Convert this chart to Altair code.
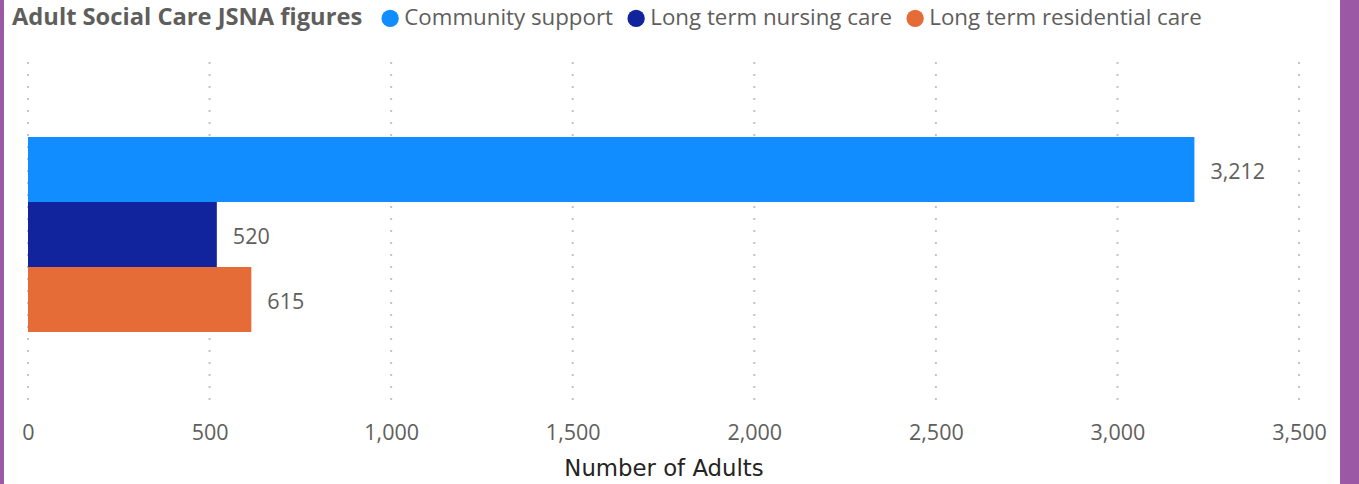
import altair as alt
import pandas as pd

categories = ["Community support", "Long term nursing care", "Long term residential care"]
values = [3212, 520, 615]
colors = ["#118DFF", "#12239E", "#E66C37"]
x_ticks = [0, 500, 1000, 1500, 2000, 2500, 3000, 3500]

df = pd.DataFrame({"Category": categories, "Adults": values})
grid_df = pd.DataFrame({"tick": x_ticks})

W, H = 1271, 348
FONT = "Open Sans"
xscale = alt.Scale(domain=[0, 3500], nice=False)

base = alt.Chart(df)

grid = alt.Chart(grid_df).mark_rule(
    color="#C4C4C4", strokeWidth=2, strokeDash=[2, 10]
).encode(
    x=alt.X("tick:Q", scale=xscale),
    y=alt.value(0),
    y2=alt.value(H),
)

bars = base.mark_bar().encode(
    x=alt.X(
        "Adults:Q",
        scale=xscale,
        axis=alt.Axis(
            values=x_ticks,
            format=",.0f",
            title="Number of Adults",
            grid=False,
            domain=False,
            ticks=False,
            labelFlush=False,
            labelFont=FONT,
            labelFontSize=21.5,
            labelColor="#605E5C",
            labelPadding=12,
            titleFont="DejaVu Sans",
            titleFontSize=22.8,
            titleFontWeight="normal",
            titleColor="#252423",
            titlePadding=14,
        ),
    ),
    y=alt.Y(
        "Category:N",
        sort=categories,
        scale=alt.Scale(range=[75, 270], paddingInner=0, paddingOuter=0),
        axis=None,
    ),
    color=alt.Color(
        "Category:N",
        sort=categories,
        scale=alt.Scale(domain=categories, range=colors),
        legend=alt.Legend(
            title="Adult Social Care JSNA figures",
            orient="none",
            direction="horizontal",
            titleOrient="left",
            legendX=-16,
            legendY=-55,
            symbolType="circle",
            symbolSize=300,
            symbolStrokeWidth=0,
            symbolOpacity=1,
            labelFont=FONT,
            labelFontSize=22.3,
            labelColor="#605E5C",
            labelOffset=3,
            labelLimit=400,
            titleFont=FONT,
            titleFontSize=23.7,
            titleFontWeight="bold",
            titleColor="#605E5C",
            titlePadding=16,
            titleLimit=600,
            columnPadding=12,
        ),
    ),
)

labels = base.mark_text(
    align="left", baseline="middle", dx=16, dy=3, font=FONT, fontSize=21.5, color="#605E5C"
).encode(
    x=alt.X("Adults:Q", scale=xscale),
    y=alt.Y("Category:N", sort=categories),
    text=alt.Text("Adults:Q", format=",.0f"),
)

border_data = alt.Data(values=[{"side": "left"}])
left_border = alt.Chart(border_data).mark_rect(color="#9B59A5").encode(
    x=alt.value(-28), x2=alt.value(-24), y=alt.value(-62), y2=alt.value(H + 74)
)
right_border = alt.Chart(border_data).mark_rect(color="#9B59A5").encode(
    x=alt.value(1312), x2=alt.value(1331), y=alt.value(-62), y2=alt.value(H + 74)
)

chart = (
    alt.layer(grid, bars, labels, left_border, right_border)
    .properties(
        width=W,
        height=H,
        autosize=alt.AutoSizeParams(type="none"),
        padding={"left": 28, "top": 62, "right": 60, "bottom": 74},
        background="white",
    )
    .configure_view(stroke=None)
)

chart.save("out.html", embed_options={"renderer": "svg", "actions": False})
